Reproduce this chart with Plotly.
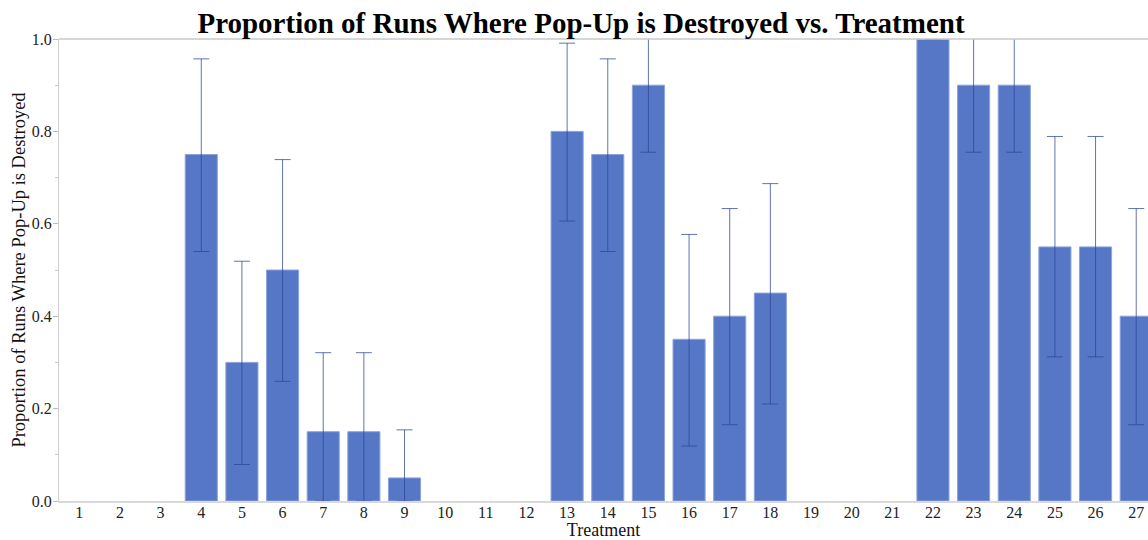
import plotly.graph_objects as go

treatments = list(range(1, 28))
proportion = [0, 0, 0, 0.75, 0.30, 0.50, 0.15, 0.15, 0.05, 0, 0, 0,
              0.80, 0.75, 0.90, 0.35, 0.40, 0.45, 0, 0, 0,
              1.00, 0.90, 0.90, 0.55, 0.55, 0.40]
upper = [None, None, None, 0.957, 0.519, 0.739, 0.321, 0.321, 0.154, None, None, None,
         0.991, 0.957, 1.03, 0.577, 0.633, 0.687, None, None, None,
         None, 1.03, 1.03, 0.789, 0.789, 0.633]
lower = [None, None, None, 0.540, 0.079, 0.259, 0.0, 0.0, 0.0, None, None, None,
         0.606, 0.540, 0.755, 0.119, 0.165, 0.210, None, None, None,
         None, 0.755, 0.755, 0.312, 0.312, 0.165]
y_ticks = [0.0, 0.2, 0.4, 0.6, 0.8, 1.0]

# zero-height bars draw nothing; leaving them empty also avoids stray error caps
y_drawn = [p if p > 0 else None for p in proportion]
err_plus = [(u - p) if u is not None else 0 for u, p in zip(upper, proportion)]
err_minus = [(p - l) if l is not None else 0 for l, p in zip(lower, proportion)]

SERIF = "Liberation Serif, Times New Roman, serif"

W, H = 1148, 540
fig = go.Figure()
fig.add_trace(go.Bar(
    x=treatments, y=y_drawn,
    marker=dict(color="#5677c6", line=dict(color="#8ea3dc", width=1)),
    width=0.79,
    error_y=dict(type="data", symmetric=False, array=err_plus, arrayminus=err_minus,
                 color="rgba(45,70,150,0.75)", thickness=1, width=8),
    cliponaxis=True,
    showlegend=False,
    hoverinfo="skip",
))

fig.update_layout(
    width=W, height=H,
    margin=dict(l=59, r=0, t=39, b=39),
    paper_bgcolor="white", plot_bgcolor="white",
    title=dict(text="<b>Proportion of Runs Where Pop-Up is Destroyed vs. Treatment</b>",
               font=dict(family=SERIF, size=29, color="black"),
               x=581/W, xanchor="center", xref="container",
               y=1 - 23/H, yanchor="middle", yref="container"),
    font=dict(family=SERIF, color="#222"),
    bargap=0.21,
)

fig.update_xaxes(
    range=[0.5, 27.29], tickmode="array", tickvals=treatments,
    ticktext=[str(t) for t in treatments],
    tickfont=dict(family=SERIF, size=16, color="#222"),
    ticklabelstandoff=-4,
    showline=True, linecolor="#d9d9d9", linewidth=2,
    showgrid=False, zeroline=False, ticks="", automargin=False,
    title=dict(text="Treatment", font=dict(family=SERIF, size=18, color="#111"), standoff=0),
)
fig.update_yaxes(
    range=[0, 1.0], tickmode="array", tickvals=y_ticks,
    ticktext=[f"{v:.1f}" for v in y_ticks],
    tickfont=dict(family=SERIF, size=16, color="#222"),
    ticklabelstandoff=-2,
    showline=True, linecolor="#cfcfcf", linewidth=1,
    ticks="outside", ticklen=5, tickcolor="#bbbbbb",
    minor=dict(dtick=0.1, ticks="outside", ticklen=3, tickcolor="#cccccc", showgrid=False),
    showgrid=False, zeroline=False, automargin=False,
    title=dict(text="Proportion of Runs Where Pop-Up is Destroyed",
               font=dict(family=SERIF, size=18.5, color="#111"), standoff=18),
)
fig.add_shape(type="line", xref="paper", yref="paper", x0=0, x1=1, y0=1, y1=1,
              line=dict(color="#c8c8c8", width=1.5))

fig.write_html("out.html",
               config={"displayModeBar": False},
               post_script="document.body.style.margin='0';document.body.style.overflow='hidden';"
                           "var t=document.querySelector('.g-ytitle text');"
                           "if(t){var x=parseFloat(t.getAttribute('x'));t.setAttribute('x',x+9);"
                           "t.setAttribute('transform',t.getAttribute('transform').replace(/rotate\\(-90,\\s*[\\d.]+/, 'rotate(-90,'+(x+9)));}")
